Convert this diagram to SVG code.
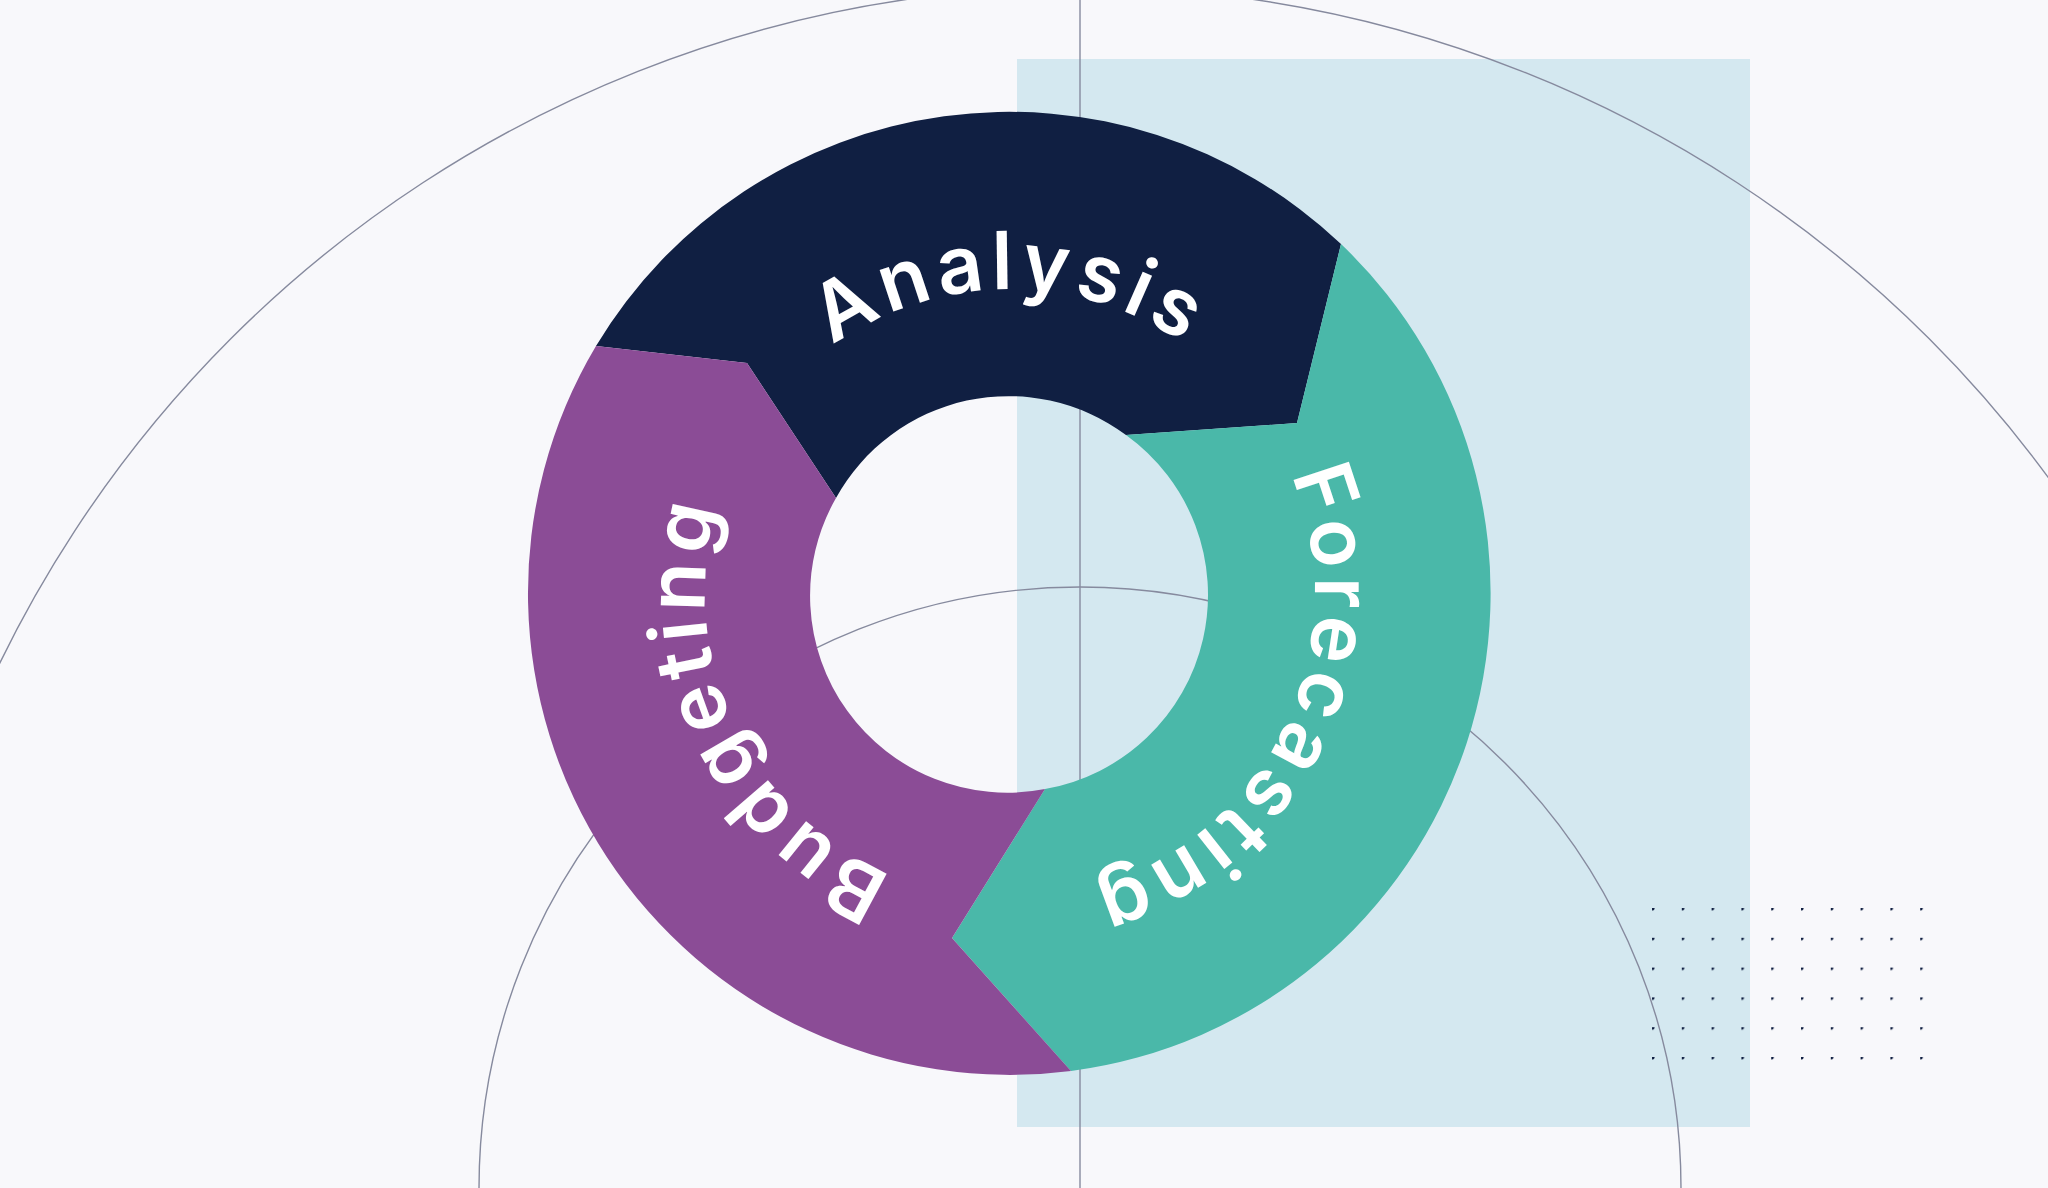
<svg xmlns="http://www.w3.org/2000/svg" width="2048" height="1188" viewBox="0 0 2048 1188">
<defs>
<style>
.ln{fill:none;stroke:#868a9e;stroke-width:1.4}
.lbl{font-family:Inter,"Liberation Sans",sans-serif;font-weight:600;font-size:80px;fill:#ffffff;letter-spacing:6px}
.dot{fill:#101f42}
</style>
<path id="pA" d="M705,594 A305,305 0 0 1 1315,594 A305,305 0 0 1 705,594"/>
<path id="pB" d="M1315,594 A305,305 0 0 1 705,594 A305,305 0 0 1 1315,594"/>
<pattern id="dots" x="1652" y="908" width="29.8" height="29.8" patternUnits="userSpaceOnUse">
<circle class="dot" cx="0" cy="0" r="2.6"/>
</pattern>
</defs>
<rect width="2048" height="1188" fill="#f8f8fb"/>
<g id="backdrop">
<rect x="1017" y="59" width="733" height="1068" fill="#d4e8f0"/>
<line class="ln" x1="1080" y1="0" x2="1080" y2="1188"/>
<circle class="ln" cx="1080" cy="1188" r="1201"/>
<circle class="ln" cx="1080" cy="1188" r="601"/>
</g>
<g id="analysis">
<path fill="#101f42" d="M596,346 A482,482 0 0 1 1341,244 L1297,423 L1126,435 A197,197 0 0 0 836,498 L747,363 Z"/>
<text class="lbl"><textPath href="#pA" startOffset="479" text-anchor="middle">Analysis</textPath></text>
</g>
<g id="forecasting">
<path fill="#4ab8a9" d="M1341,244 A482,482 0 0 1 1071,1071 L952,938 L1045,789 A197,197 0 0 0 1126,435 L1297,423 Z"/>
<text class="lbl"><textPath href="#pA" startOffset="1096" text-anchor="middle">Forecasting</textPath></text>
</g>
<g id="budgeting">
<path fill="#8b4c96" d="M1071,1071 A482,482 0 0 1 596,346 L747,363 L836,498 A197,197 0 0 0 1045,789 L952,938 Z"/>
<text class="lbl"><textPath href="#pB" startOffset="825" text-anchor="middle">Budgeting</textPath></text>
</g>
<g id="connectors"></g>
<g id="dotgrid">
<rect x="1640" y="896" width="298" height="178" fill="url(#dots)" transform="translate(0,0)"/>
</g>
</svg>
